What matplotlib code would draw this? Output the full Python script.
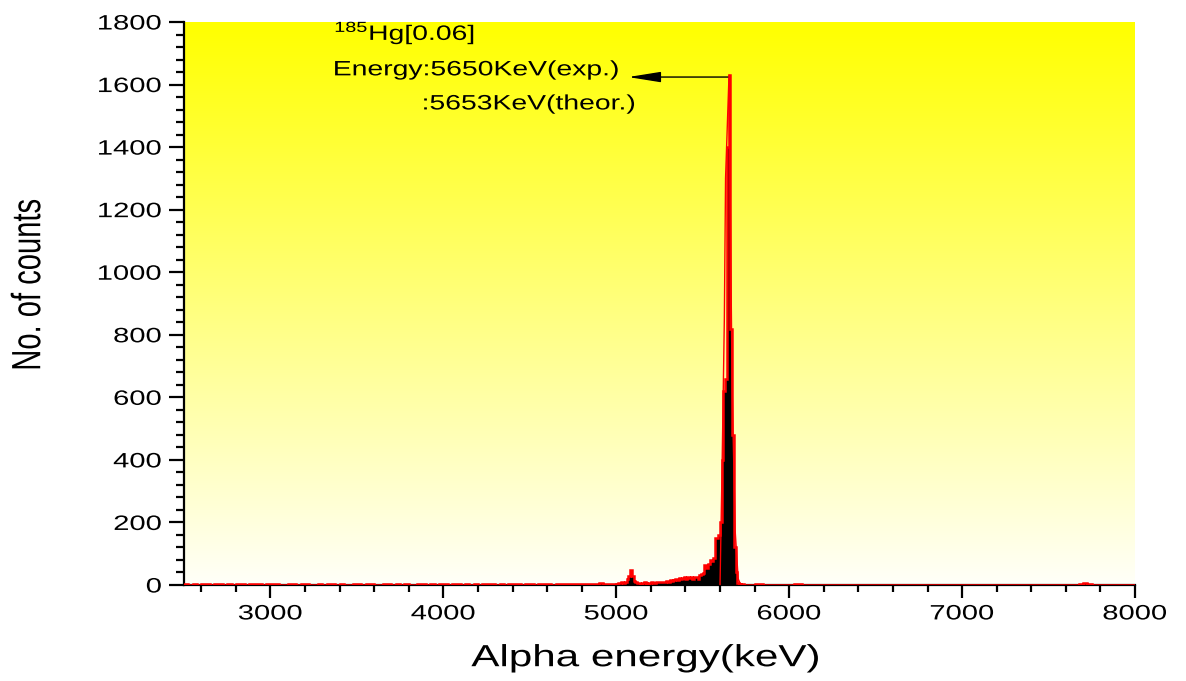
import numpy as np
import matplotlib
matplotlib.use("Agg")
import matplotlib.pyplot as plt
from matplotlib.patheffects import AbstractPathEffect
from matplotlib.transforms import Affine2D
from matplotlib.ticker import MultipleLocator

plt.rcParams['font.family'] = ['Liberation Sans', 'DejaVu Sans']
plt.rcParams['mathtext.fontset'] = 'custom'
plt.rcParams['mathtext.rm'] = 'Liberation Sans'

# ---------------- data ----------------
# segment A: 2500-5000 keV, 25 keV bins
seg_a_range = (2500, 5000, 25)
seg_a_counts = [2, 1, 3, 0, 2, 4, 1, 2, 3, 1,
                2, 0, 3, 2, 1, 2, 4, 3, 1, 2,
                3, 2, 1, 0, 2, 3, 1, 2, 2, 1,
                0, 2, 1, 3, 2, 1, 2, 0, 1, 2,
                3, 1, 2, 2, 1, 0, 2, 3, 1, 2,
                1, 2, 0, 1, 3, 2, 1, 2, 1, 3,
                2, 1, 2, 3, 1, 2, 0, 2, 1, 2,
                3, 2, 1, 2, 1, 3, 2, 2, 1, 3,
                2, 1, 3, 2, 2, 1, 3, 2, 4, 2,
                3, 2, 3, 4, 2, 3, 5, 4, 3, 4]
# segment B: 5000-5800 keV, 10 keV bins
seg_b_range = (5000, 5800, 10)
seg_b_counts = [4, 6, 5, 8, 6, 10, 18, 30, 48, 28,
                14, 8, 6, 5, 4, 6, 8, 7, 4, 6,
                9, 7, 5, 10, 8, 8, 11, 9, 10, 12,
                11, 15, 12, 16, 19, 15, 22, 18, 21, 24,
                20, 25, 22, 24, 20, 26, 24, 18, 32, 34,
                38, 64, 54, 66, 80, 78, 85, 150, 150, 160,
                200, 400, 620, 660, 1400, 1400, 820, 480, 120, 40,
                5, 2, 1, 2, 0, 1, 0, 1, 0, 1]
# red outline differs at the peak bin
seg_b_outline = [4, 6, 5, 8, 6, 10, 18, 30, 48, 28,
                 14, 8, 6, 5, 4, 6, 8, 7, 4, 6,
                 9, 7, 5, 10, 8, 8, 11, 9, 10, 12,
                 11, 15, 12, 16, 19, 15, 22, 18, 21, 24,
                 20, 25, 22, 24, 20, 26, 24, 18, 32, 34,
                 38, 64, 54, 66, 80, 78, 85, 150, 150, 160,
                 200, 400, 620, 660, 1400, 1630, 820, 480, 120, 40,
                 5, 2, 1, 2, 0, 1, 0, 1, 0, 1]
# segment C: 5800-8000 keV, 25 keV bins
seg_c_range = (5800, 8000, 25)
seg_c_counts = [3, 2, 1, 1, 0, 1, 0, 1, 0, 4,
                2, 1, 0, 1, 0, 0, 1, 0, 0, 1,
                0, 0, 1, 0, 0, 1, 0, 0, 0, 1,
                0, 0, 0, 1, 0, 0, 1, 0, 0, 0,
                1, 0, 0, 0, 1, 0, 0, 0, 1, 0,
                0, 1, 0, 0, 0, 1, 0, 0, 1, 0,
                1, 0, 0, 1, 0, 0, 0, 1, 0, 0,
                1, 0, 0, 0, 1, 4, 7, 3, 1, 0,
                1, 0, 1, 0, 0, 1, 0, 1]

fit_energy = [5600, 5612, 5625, 5632, 5652, 5670, 5688, 5705, 5720]
fit_counts = [0, 380, 850, 1300, 1630, 630, 170, 20, 0]

x_ticks = [3000, 4000, 5000, 6000, 7000, 8000]
y_ticks = [0, 200, 400, 600, 800, 1000, 1200, 1400, 1600, 1800]

title_text = r"$^{185}$Hg[0.06]"
line1_text = "Energy:5650KeV(exp.)"
line2_text = ":5653KeV(theor.)"
arrow_from = (5645, 1624)
arrow_to = (5069, 1624)


# ------------- horizontal text stretch (the reference is stretched) -------------
class HStretch(AbstractPathEffect):
    def __init__(self, sx=1.4, anchor='center'):
        super().__init__()
        self.sx = sx
        self.anchor = anchor

    def draw_path(self, renderer, gc, tpath, affine, rgbFace=None):
        bb = tpath.get_extents(affine)
        if self.anchor == 'left':
            cx = bb.x0
        elif self.anchor == 'right':
            cx = bb.x1
        else:
            cx = 0.5 * (bb.x0 + bb.x1)
        t = affine + Affine2D().translate(-cx, 0).scale(self.sx, 1.0).translate(cx, 0)
        renderer.draw_path(gc, tpath, t, rgbFace)


SX = 1.4

fig = plt.figure(figsize=(11.86, 6.81), dpi=100)
ax = fig.add_axes([184 / 1186, 96 / 681, 951 / 1186, 563 / 681])

xmin, xmax, ymin, ymax = 2500, 8000, 0, 1800

# gradient background
grad = np.linspace(0, 1, 256)[:, None]
top = np.array([1.0, 1.0, 0.0])
bot = np.array([1.0, 1.0, 0.975])
img = top[None, None, :] * (1 - grad[:, :, None]) + bot[None, None, :] * grad[:, :, None]
ax.imshow(img, extent=(xmin, xmax, ymin, ymax), aspect='auto', origin='upper', zorder=0,
          interpolation='bilinear')


def edges(r):
    return np.arange(r[0], r[1] + r[2] / 2, r[2])


for rng, vals, outl in [(seg_a_range, seg_a_counts, seg_a_counts),
                        (seg_b_range, seg_b_counts, seg_b_outline),
                        (seg_c_range, seg_c_counts, seg_c_counts)]:
    e = edges(rng)
    ax.stairs(vals, e, fill=True, color='black', zorder=2, lw=0)
    ax.stairs(outl, e, color='#ff0000', lw=1.8, zorder=3)

ax.plot(fit_energy, fit_counts, color='#ff0000', lw=1.0, zorder=4)

ax.set_xlim(xmin, xmax)
ax.set_ylim(ymin, ymax)

ax.set_xticks(x_ticks)
ax.set_yticks(y_ticks)
ax.xaxis.set_minor_locator(MultipleLocator(200))
ax.yaxis.set_minor_locator(MultipleLocator(40))
ax.tick_params(axis='x', which='major', length=9, width=1.6, direction='out', labelsize=15, pad=5)
ax.tick_params(axis='x', which='minor', length=5, width=1.6, direction='out')
ax.tick_params(axis='y', which='major', length=11, width=1.6, direction='out', labelsize=15, pad=5)
ax.tick_params(axis='y', which='minor', length=6, width=1.6, direction='out')
for s in ['top', 'right']:
    ax.spines[s].set_visible(False)
for s in ['left', 'bottom']:
    ax.spines[s].set_linewidth(1.6)

ax.set_xlabel("Alpha energy(keV)", fontsize=22)
ax.set_ylabel("No. of counts", fontsize=21)
ax.xaxis.label.set_va('center')
ax.yaxis.label.set_va('center')
ax.xaxis.set_label_coords(0.485, -0.13)
ax.yaxis.set_label_coords(-0.164, 0.533)
ax.xaxis.label.set_path_effects([HStretch(1.38, 'center')])
ax.yaxis.label.set_path_effects([HStretch(SX, 'center')])

t0 = ax.text(3370, 1765, title_text, fontsize=15, ha='left', va='center', zorder=5)
t1 = ax.text(3364, 1647, line1_text, fontsize=15, ha='left', va='center', zorder=5)
t2 = ax.text(3878, 1538, line2_text, fontsize=15, ha='left', va='center', zorder=5)
for t in (t0, t1, t2):
    t.set_path_effects([HStretch(1.36, 'left')])

ax.annotate('', xy=arrow_to, xytext=arrow_from,
            arrowprops=dict(arrowstyle='-|>,head_length=1.0,head_width=0.16',
                            color='black', lw=1.0, mutation_scale=20,
                            shrinkA=0, shrinkB=0), zorder=5)

fig.canvas.draw()
for lbl in ax.get_xticklabels():
    lbl.set_path_effects([HStretch(SX, 'center')])
for lbl in ax.get_yticklabels():
    lbl.set_path_effects([HStretch(SX, 'right')])

fig.savefig("out.png", dpi=100)
